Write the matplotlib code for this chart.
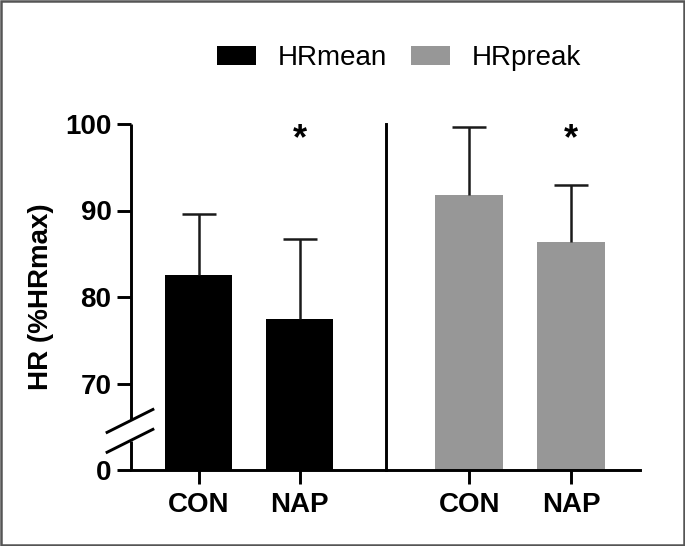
import matplotlib.pyplot as plt
import matplotlib.transforms as mtransforms
from matplotlib.patches import Patch

plt.rcParams["font.family"] = ["Liberation Sans", "DejaVu Sans"]

# ── Data ───────────────────────────────────────────────────────
groups = ["CON", "NAP", "CON", "NAP"]
means = [82.5, 77.5, 91.8, 86.4]
sds = [7.1, 9.2, 7.9, 6.6]
series = ["HRmean", "HRmean", "HRpreak", "HRpreak"]
signif = [False, True, False, True]
positions = [0, 1, 2.68, 3.69]

colors = {"HRmean": "#000000", "HRpreak": "#979797"}
BASE = 60  # value drawn as "0" below the axis break
WIDTH = 0.67
LW = 2.1

fig = plt.figure(figsize=(6.85, 5.46), dpi=100)
ax = fig.add_axes([131 / 685, 1 - 470 / 546, (640 - 131) / 685, (470 - 124) / 546])

bar_colors = [colors[s] for s in series]
ax.bar(positions, [m - BASE for m in means], bottom=BASE, width=WIDTH,
       color=bar_colors, zorder=2)

# upper-only error bars
tops = [m + s for m, s in zip(means, sds)]
ax.vlines(positions, means, tops, color="#1a1a1a", lw=1.8, zorder=3)
ax.hlines(tops, [p - WIDTH / 4 for p in positions],
          [p + WIDTH / 4 for p in positions], color="#1a1a1a", lw=1.8, zorder=3)

for x, s in zip(positions, signif):
    if s:
        ax.text(x, 98.2, "*", ha="center", va="center", fontsize=26,
                fontweight="bold")

# divider between the two panels
ax.plot([1.85, 1.85], [BASE, 100], color="black", lw=LW, clip_on=False)

ax.set_xlim(-0.67, 4.37)
ax.set_ylim(BASE, 100)
ax.set_yticks([60, 70, 80, 90, 100])
ax.set_yticklabels(["0", "70", "80", "90", "100"])
ax.set_xticks(positions)
ax.set_xticklabels(groups)

for side in ["top", "right", "left"]:
    ax.spines[side].set_visible(False)
ax.spines["bottom"].set_linewidth(LW)
ax.tick_params(axis="both", length=10, width=LW, labelsize=20, pad=4)
ax.tick_params(axis="x", pad=6)
for lab in ax.get_xticklabels() + ax.get_yticklabels():
    lab.set_fontweight("bold")

# broken y axis
ax.plot([0, 0], [BASE, 63.4], color="black", lw=LW, clip_on=False,
        transform=ax.get_yaxis_transform(), solid_capstyle="butt")
ax.plot([0, 0], [65.75, 100], color="black", lw=LW, clip_on=False,
        transform=ax.get_yaxis_transform(), solid_capstyle="butt")
trans = mtransforms.blended_transform_factory(ax.transAxes, ax.transData)
ax.plot([-0.047, 0.043], [64.35, 67.0], color="black", lw=LW,
        clip_on=False, transform=trans)
ax.plot([-0.047, 0.043], [62.05, 64.7], color="black", lw=LW,
        clip_on=False, transform=trans)

ax.set_ylabel("HR (%HRmax)", fontsize=20, fontweight="bold", labelpad=8)

handles = [Patch(facecolor=colors[k], edgecolor="none") for k in colors]
fig.legend(handles, list(colors.keys()), loc="center", ncol=2,
           bbox_to_anchor=(0.583, 0.894), frameon=False, fontsize=20,
           handlelength=1.4, handleheight=0.68, handletextpad=0.8,
           columnspacing=0.85)

# image frame
fig.patches.append(plt.Rectangle((0.0015, 0.002), 0.997, 0.996, fill=False,
                                 edgecolor="#555555", lw=1.8,
                                 transform=fig.transFigure))

fig.savefig("out.png", dpi=100)
